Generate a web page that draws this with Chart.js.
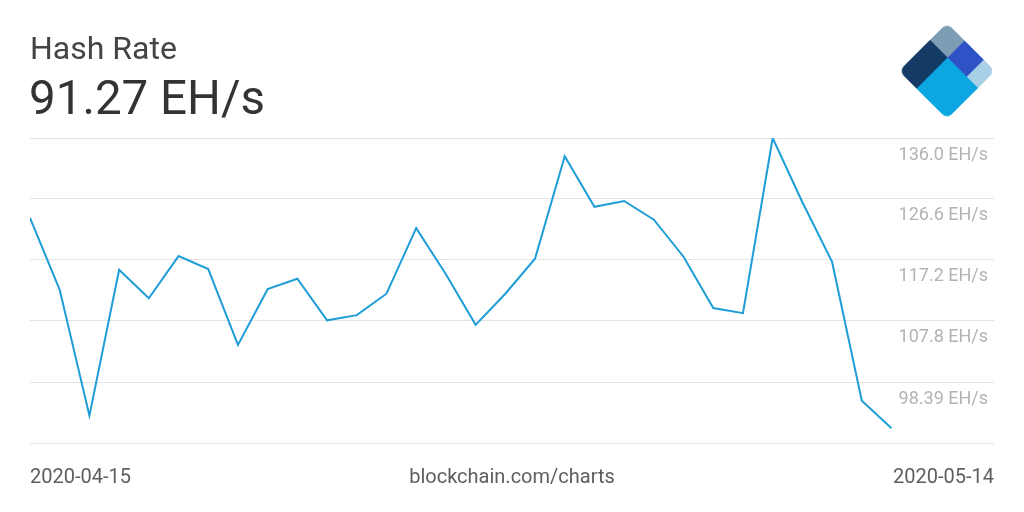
<!DOCTYPE html>
<html>
<head>
<meta charset="utf-8">
<script src="https://cdn.jsdelivr.net/npm/chart.js@4/dist/chart.umd.min.js"></script>
<style>
  html, body { margin: 0; padding: 0; background: #fff; }
  #wrap { position: relative; width: 1024px; height: 512px; overflow: hidden; font-family: Roboto, sans-serif; }
  #chart { position: absolute; left: 0; top: 0; }
  .title { position: absolute; left: 30px; top: 29px; font-size: 32px; color: #444; }
  .value { position: absolute; left: 29px; top: 70px; font-size: 47.5px; color: #333; }
  .foot { position: absolute; top: 464px; font-size: 20px; color: #5e5e5e; }
  #logo { position: absolute; left: 913px; top: 37px; width: 68px; height: 68px;
          transform: rotate(45deg); border-radius: 7px; overflow: hidden; }
  #logo div { position: absolute; }
</style>
</head>
<body>
<div id="wrap">
  <canvas id="chart" width="1024" height="512"></canvas>
  <div class="title">Hash Rate</div>
  <div class="value">91.27 EH/s</div>
  <div class="foot" style="left:30px">2020-04-15</div>
  <div class="foot" style="left:0;width:1024px;text-align:center">blockchain.com/charts</div>
  <div class="foot" style="right:30px">2020-05-14</div>
  <div id="logo">
    <div style="left:0;top:0;width:37%;height:36%;background:#7d9db5"></div>
    <div style="left:0;top:36%;width:37%;height:64%;background:#143a66"></div>
    <div style="left:37%;top:0;width:40%;height:36%;background:#2f52c6"></div>
    <div style="left:77%;top:0;width:23%;height:36%;background:#a8d0e6"></div>
    <div style="left:37%;top:36%;width:63%;height:64%;background:#0ca6e3"></div>
  </div>
</div>
<script>
const dates = [
  '2020-04-15','2020-04-16','2020-04-17','2020-04-18','2020-04-19','2020-04-20',
  '2020-04-21','2020-04-22','2020-04-23','2020-04-24','2020-04-25','2020-04-26',
  '2020-04-27','2020-04-28','2020-04-29','2020-04-30','2020-05-01','2020-05-02',
  '2020-05-03','2020-05-04','2020-05-05','2020-05-06','2020-05-07','2020-05-08',
  '2020-05-09','2020-05-10','2020-05-11','2020-05-12','2020-05-13','2020-05-14'
];
const hashRate = [
  123.7, 112.6, 93.2, 115.7, 111.3, 117.8, 115.8, 104.1, 112.7, 114.3,
  107.9, 108.7, 112.0, 122.1, 115.0, 107.2, 112.0, 117.4, 133.2, 125.4,
  126.3, 123.4, 117.7, 109.8, 109.0, 136.0, 126.1, 116.9, 95.5, 91.27
];
const yTicks = [88.99, 98.39, 107.8, 117.2, 126.6, 136.0];
const yLabels = ['', '98.39 EH/s', '107.8 EH/s', '117.2 EH/s', '126.6 EH/s', '136.0 EH/s'];

const ctx = document.getElementById('chart').getContext('2d');
new Chart(ctx, {
  type: 'line',
  data: {
    labels: dates,
    datasets: [{
      data: hashRate.map((v, i) => ({ x: i, y: v })),
      borderColor: '#1f9dd6',
      borderWidth: 2,
      pointRadius: 0,
      tension: 0,
      fill: false
    }]
  },
  options: {
    responsive: false,
    animation: false,
    layout: { padding: { left: 30, right: 30, top: 138, bottom: 69 } },
    plugins: { legend: { display: false }, tooltip: { enabled: false } },
    scales: {
      x: { type: 'linear', display: false, min: 0, max: 32.45 },
      y: {
        position: 'right',
        min: yTicks[0],
        max: yTicks[yTicks.length - 1],
        afterBuildTicks: scale => { scale.ticks = yTicks.map(v => ({ value: v })); },
        afterFit: scale => { scale.width = 0; },
        border: { display: false },
        grid: { color: '#e4e4e4', lineWidth: 1, drawTicks: false },
        ticks: {
          mirror: true,
          padding: -6,
          labelOffset: 17,
          color: '#b3b3b3',
          font: { family: 'Roboto', size: 18 },
          callback: (v, i) => yLabels[i]
        }
      }
    }
  }
});
</script>
</body>
</html>
